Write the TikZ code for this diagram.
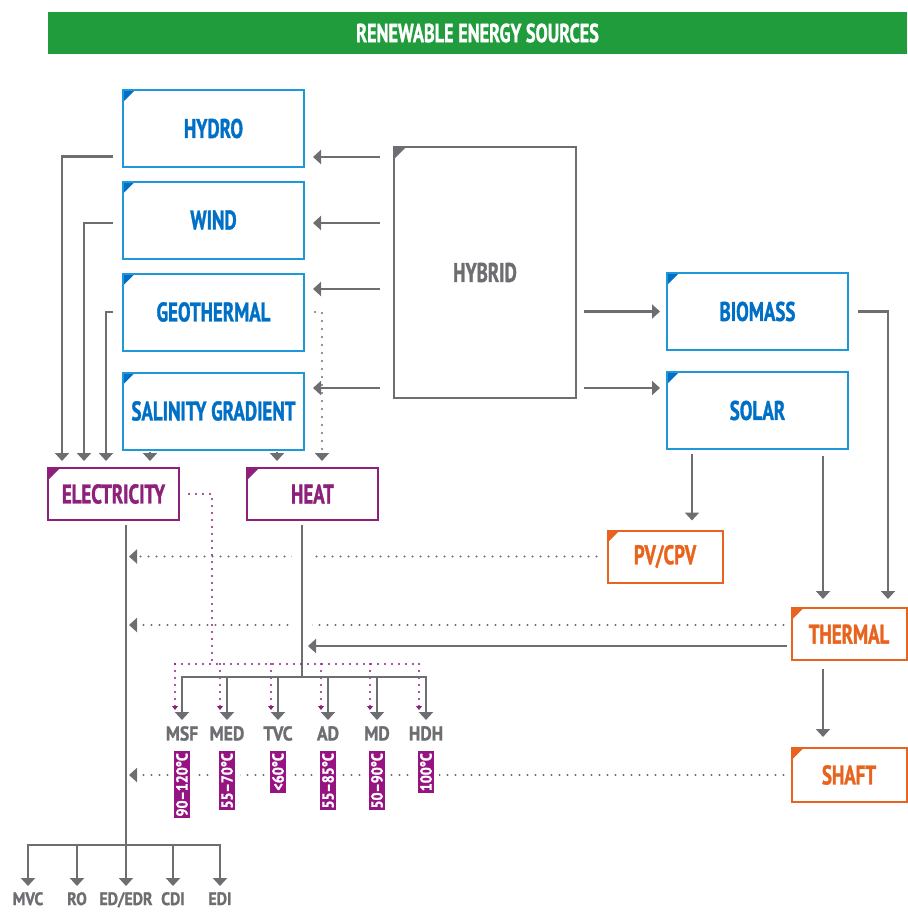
\documentclass[tikz,border=0pt]{standalone}
\usepackage{fontspec}
\setmainfont{PT Sans}[FakeStretch=0.7, BoldFeatures={FakeBold=1.2}]
\newfontfamily\labfont{PT Sans}[FakeStretch=0.88, BoldFeatures={FakeBold=1.2}]
\usepackage{tikz}
\usetikzlibrary{arrows.meta, calc}

\definecolor{bannergreen}{RGB}{32,156,60}
\definecolor{srcline}{RGB}{30,152,216}
\definecolor{srctext}{RGB}{0,112,198}
\definecolor{linegray}{RGB}{109,110,113}
\definecolor{formpurple}{RGB}{140,32,122}
\definecolor{tagpurple}{RGB}{150,20,130}
\definecolor{techorange}{RGB}{232,100,30}

\tikzset{
  box/.style={draw, line width=2pt, fill=white, inner sep=0pt, font=\bfseries\fontsize{27}{30}\selectfont},
  corner/.style={path picture={\fill[#1] (path picture bounding box.north west) -- ++(12pt,0pt) -- ++(-12pt,-12pt) -- cycle;}},
  srcbox/.style={box, draw=srcline, text=srctext, corner=srctext, minimum width=181pt, minimum height=77pt},
  hybbox/.style={box, draw=linegray, text=linegray, corner=linegray, minimum width=182pt, minimum height=251pt},
  formbox/.style={box, draw=formpurple, text=formpurple, corner=formpurple, minimum width=131pt, minimum height=52pt},
  techbox/.style={box, draw=techorange, text=techorange, corner=techorange, minimum width=115pt, minimum height=52pt},
  trunk/.style={draw=linegray, line width=2.4pt},
  arr/.style={trunk, -{Triangle[width=14pt,length=8pt]}},
  dotarr/.style={draw=linegray, line width=2.2pt, line cap=round, dash pattern=on 0pt off 8pt, -{Triangle[width=14pt,length=8pt]}},
  pdot/.style={draw=formpurple, line width=2.2pt, line cap=round, dash pattern=on 0pt off 7pt},
  pdotarr/.style={pdot, -{Triangle[width=6pt,length=4pt]}},
  lab/.style={text=linegray, anchor=north, inner sep=0pt, font=\labfont\bfseries\fontsize{20}{22}\selectfont},
  tag/.style={fill=tagpurple, text=white, rotate=90, anchor=east, inner sep=2pt, font=\labfont\bfseries\fontsize{16}{16}\selectfont, preaction={draw=white, line width=10pt}},
}

\begin{document}
\begin{tikzpicture}[x=1pt, y=-1pt]
\useasboundingbox (0,0) rectangle (907,915);

% banner
\node[fill=bannergreen, text=white, minimum width=859pt, minimum height=42pt, inner sep=0pt,
  font=\bfseries\fontsize{26}{28}\selectfont] (banner) at (477.5,33) {RENEWABLE ENERGY SOURCES};

% sources
\node[srcbox] (hydro) at (213.5,128.5) {HYDRO};
\node[srcbox] (wind) at (213.5,220) {WIND};
\node[srcbox] (geo) at (213.5,312) {GEOTHERMAL};
\node[srcbox] (sal) at (213.5,411) {SALINITY GRADIENT};
\node[hybbox] (hybrid) at (485,272.5) {HYBRID};
\node[srcbox] (biomass) at (757.5,311.5) {BIOMASS};
\node[srcbox] (solar) at (757.5,410.5) {SOLAR};

% energy forms
\node[formbox] (elec) at (113.5,494) {ELECTRICITY};
\node[formbox] (heat) at (312.5,494) {HEAT};
\node[techbox] (pv) at (665,556.5) {PV/CPV};
\node[techbox] (thermal) at (849,634) {THERMAL};
\node[techbox, minimum height=54pt] (shaft) at (849,775) {SHAFT};

% hybrid links
\coordinate (a1) at ([yshift=-28.5pt]hydro.east);
\coordinate (a2) at ([yshift=-3pt]wind.east);
\coordinate (a3) at ([yshift=23pt]geo.east);
\coordinate (a4) at ([yshift=23pt]sal.east);
\foreach \c in {a1,a2,a3,a4}
  \draw[arr, shorten <=13pt, shorten >=8pt] (hybrid.west |- \c) -- (\c);
\coordinate (s1) at ([yshift=22.5pt]solar.west);
\draw[arr, shorten <=7pt, shorten >=6pt] (hybrid.east |- biomass.west) -- (biomass.west);
\draw[arr, shorten <=7pt, shorten >=6pt] (hybrid.east |- s1) -- (s1);

% sources to electricity / heat
\draw[arr, shorten <=9pt, shorten >=6pt] ([yshift=-28pt]hydro.west) -| ([xshift=-51.5pt]elec.north);
\draw[arr, shorten <=9pt, shorten >=6pt] ([yshift=-3pt]wind.west) -| ([xshift=-29.5pt]elec.north);
\draw[arr, shorten <=9pt, shorten >=6pt] (geo.west) -| ([xshift=-7.5pt]elec.north);
\draw[arr] ([xshift=36.5pt,yshift=15pt]elec.north) -- ([xshift=36.5pt,yshift=6pt]elec.north);
\draw[arr] ([xshift=-35.5pt,yshift=15pt]heat.north) -- ([xshift=-35.5pt,yshift=6pt]heat.north);
\draw[dotarr] ([xshift=10pt]geo.east) -| ([xshift=9.5pt,yshift=6pt]heat.north);

% solar / biomass
\coordinate (sp) at ([xshift=-65.5pt]solar.south);
\coordinate (st) at ([xshift=65.5pt]solar.south);
\draw[arr, shorten <=4pt, shorten >=9pt] (sp) -- (sp |- pv.north);
\draw[arr, shorten <=6pt, shorten >=8pt] (st) -- (st |- thermal.north);
\draw[arr, shorten <=9pt, shorten >=8pt] (biomass.east) -| ([xshift=39pt]thermal.north);
\draw[arr, shorten <=8pt, shorten >=10pt] ([xshift=-26pt]thermal.south) -- ([xshift=-26pt]shaft.north);

% trunks
\coordinate (etop) at ([xshift=12.5pt,yshift=-4pt]elec.south);
\coordinate (ejoin) at (126,845);
\coordinate (htop) at ([xshift=-10.5pt,yshift=-4pt]heat.south);
\coordinate (hjoin) at (302,677);
\coordinate (pjoin) at (212,664);
\draw[trunk] (etop) -- (ejoin);

% links into electricity
\coordinate (tw) at ([yshift=9pt]thermal.west);
\draw[dotarr, shorten <=10pt, shorten >=3pt] (pv.west) -- (pv.west -| ejoin);
\draw[dotarr, shorten <=7pt, shorten >=3pt] (tw) -- (tw -| ejoin);
\draw[dotarr, shorten <=7pt, shorten >=3pt] (shaft.west) -- (shaft.west -| ejoin);

% heat trunk
\draw[trunk, preaction={draw=white, line width=20pt}] (htop) -- (hjoin);
\coordinate (tw2) at ([yshift=-12pt]thermal.west);
\draw[arr, shorten <=4pt, shorten >=6pt] (tw2) -- (tw2 -| hjoin);
\draw[pdot] ([xshift=9pt]elec.east) -| (pjoin);

% thermal desalination
\foreach \x/\t/\deg [count=\i] in {182/MSF/90–120°C, 227/MED/55–70°C, 278/TVC/<60°C,
    328/AD/55–85°C, 377/MD/50–90°C, 426/HDH/100°C} {
  \node[lab] (use\i) at (\x,726) {\t};
  \draw[arr, shorten >=6pt] (hjoin -| use\i) -- (use\i.north);
  \draw[pdotarr] ($(pjoin -| use\i)+(-7,0)$) -- ($(use\i.north)+(-7,-16)$);
  \node[tag] (deg\i) at (\x,751) {\deg};
}
\draw[trunk, line cap=rect] (hjoin -| use1) -- (hjoin -| use6);
\draw[pdot] ($(pjoin -| use1)+(-7,0)$) -- ($(pjoin -| use6)+(-7,0)$);

% electrical desalination
\foreach \x/\t [count=\i] in {28/MVC, 77/RO, 126/{ED/EDR}, 173/CDI, 220/EDI} {
  \node[lab, font=\labfont\bfseries\fontsize{18}{20}\selectfont] (out\i) at (\x,892) {\t};
  \draw[arr, shorten >=6pt] (ejoin -| out\i) -- (out\i.north);
}
\draw[trunk, line cap=rect] (ejoin -| out1) -- (ejoin -| out5);
\end{tikzpicture}
\end{document}
